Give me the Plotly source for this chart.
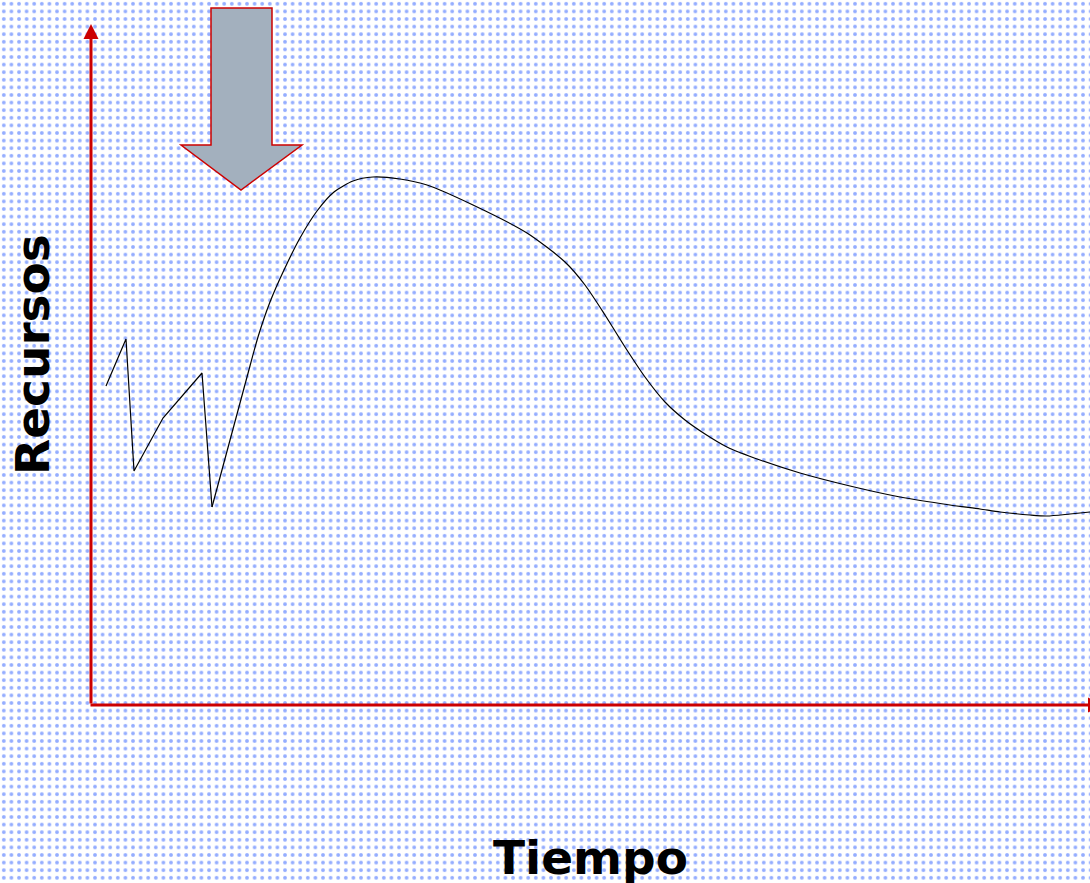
import plotly.graph_objects as go

# ---- data (time vs resources, in pixel-like units from the origin) ----
time_zig = [15, 35, 43, 72, 111, 121]
res_zig = [319, 366, 234, 287, 332, 198]

time_smooth = [121, 156, 167, 179, 193, 209, 226, 243, 262, 282, 309, 336, 382,
               436, 474, 494, 514, 534, 554, 574, 594, 614, 636, 669, 709, 759,
               809, 859, 889, 909, 939, 956, 979, 999]
res_smooth = [198, 328, 368, 403, 435, 467, 494, 513, 524, 528, 526, 520, 500,
              472, 443, 420, 390, 358, 328, 303, 285, 271, 258, 245, 232, 219,
              208, 200, 196, 193, 190, 189, 191, 193]

x_label = "Tiempo"
y_label = "Recursos"

# view ranges (figure spans the full canvas)
X_RANGE = [-91, 999]
Y_RANGE = [-178, 705]

# decorative big arrow geometry
ARROW_SHAFT_X = (120, 181)
ARROW_TOP_Y = 697
ARROW_HEAD_Y = 560
ARROW_HEAD_X = (90, 211)
ARROW_TIP = (150, 515)

AXIS_RED = "#cc0000"

fig = go.Figure()

# dotted background
fig.add_trace(go.Scatter(
    x=[X_RANGE[0], X_RANGE[1], X_RANGE[1], X_RANGE[0]],
    y=[Y_RANGE[0], Y_RANGE[0], Y_RANGE[1], Y_RANGE[1]],
    fill="toself", mode="none", hoverinfo="skip", showlegend=False,
    fillcolor="white",
    fillpattern=dict(shape=".", fgcolor="#2a5cff", bgcolor="white",
                     size=7.6, solidity=0.2),
))

fig.add_trace(go.Scatter(
    x=time_zig, y=res_zig, mode="lines",
    line=dict(color="black", width=1.2), showlegend=False, hoverinfo="skip"))

fig.add_trace(go.Scatter(
    x=time_smooth, y=res_smooth, mode="lines",
    line=dict(color="black", width=1.2, shape="spline", smoothing=0.7),
    showlegend=False, hoverinfo="skip"))

# big gray arrow
sx0, sx1 = ARROW_SHAFT_X
hx0, hx1 = ARROW_HEAD_X
tx, ty = ARROW_TIP
path = (f"M {sx0},{ARROW_TOP_Y} L {sx1},{ARROW_TOP_Y} L {sx1},{ARROW_HEAD_Y} "
        f"L {hx1},{ARROW_HEAD_Y} L {tx},{ty} L {hx0},{ARROW_HEAD_Y} "
        f"L {sx0},{ARROW_HEAD_Y} Z")
fig.add_shape(type="path", path=path, xref="x", yref="y",
              fillcolor="#a3b0be", line=dict(color=AXIS_RED, width=1.5),
              layer="above")

# axes as arrows
fig.add_annotation(x=0, y=681, ax=0, ay=0, axref="x", ayref="y", xref="x", yref="y",
                   text="", showarrow=True, arrowhead=2, arrowsize=1,
                   arrowwidth=3, arrowcolor=AXIS_RED, standoff=0)
fig.add_annotation(x=1012, y=0, ax=-2, ay=0, axref="x", ayref="y", xref="x", yref="y",
                   text="", showarrow=True, arrowhead=2, arrowsize=1,
                   arrowwidth=3, arrowcolor=AXIS_RED, standoff=0)

label_font = dict(family="DejaVu Sans", size=47, color="black")
fig.add_annotation(x=499, y=-152, xref="x", yref="y", text=f"<b>{x_label}</b>",
                   showarrow=False, font=label_font, xanchor="center", yanchor="middle")
fig.add_annotation(x=-59, y=350, xref="x", yref="y", text=f"<b>{y_label}</b>",
                   showarrow=False, font=label_font, textangle=-90,
                   xanchor="center", yanchor="middle")

fig.update_layout(
    width=1090, height=883,
    margin=dict(l=0, r=0, t=0, b=0),
    paper_bgcolor="white", plot_bgcolor="white",
    xaxis=dict(range=X_RANGE, visible=False, fixedrange=True),
    yaxis=dict(range=Y_RANGE, visible=False, fixedrange=True),
    showlegend=False,
)

fig.write_html("out.html", config={"displayModeBar": False},
               post_script="document.body.style.margin='0';document.body.style.overflow='hidden';")
